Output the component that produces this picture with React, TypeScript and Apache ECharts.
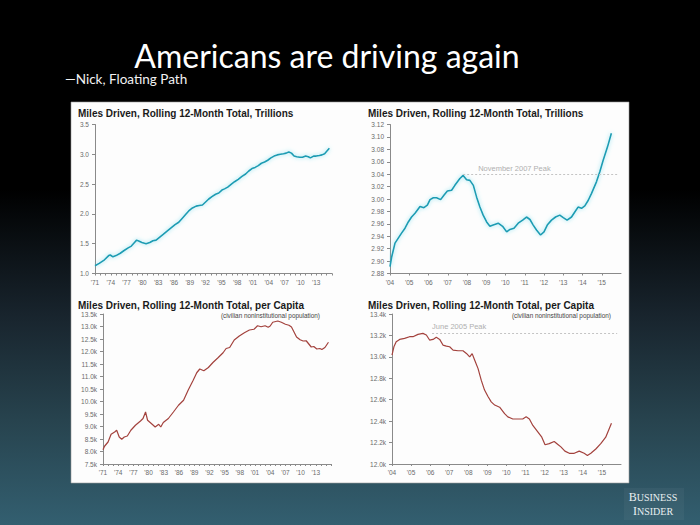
import React, { useEffect, useRef } from 'react';
import * as echarts from 'echarts';

// ---------- DATA ----------
const chartTitles = [
  'Miles Driven, Rolling 12-Month Total, Trillions',
  'Miles Driven, Rolling 12-Month Total, Trillions',
  'Miles Driven, Rolling 12-Month Total, per Capita',
  'Miles Driven, Rolling 12-Month Total, per Capita',
];
const popNote = '(civilian noninstitutional population)';

// Top-left: 1971-2015, trillions
const milesTotalLong: [number, number][] = [
  [1971.0, 1.13], [1971.8, 1.17], [1972.8, 1.23], [1973.6, 1.30], [1973.9, 1.31],
  [1974.4, 1.28], [1975.0, 1.30], [1975.8, 1.34], [1976.6, 1.39], [1977.3, 1.43],
  [1977.9, 1.46], [1978.5, 1.52], [1978.9, 1.56], [1979.4, 1.54], [1979.9, 1.52],
  [1980.7, 1.50], [1981.4, 1.52], [1982.0, 1.55], [1982.6, 1.56], [1983.3, 1.61],
  [1984.0, 1.66], [1984.8, 1.72], [1985.5, 1.77], [1986.2, 1.82], [1986.9, 1.86],
  [1987.5, 1.92], [1988.2, 1.99], [1988.8, 2.05], [1989.5, 2.10], [1990.2, 2.13],
  [1990.8, 2.14], [1991.4, 2.15], [1992.0, 2.20], [1992.6, 2.25], [1993.2, 2.29],
  [1993.9, 2.33], [1994.5, 2.35], [1995.1, 2.40], [1995.6, 2.42], [1996.2, 2.45],
  [1996.9, 2.50], [1997.5, 2.54], [1998.2, 2.58], [1998.9, 2.63], [1999.6, 2.67],
  [2000.2, 2.72], [2000.8, 2.76], [2001.4, 2.78], [2002.0, 2.81], [2002.6, 2.85],
  [2003.2, 2.87], [2003.8, 2.90], [2004.4, 2.94], [2005.0, 2.97], [2005.6, 2.99],
  [2006.2, 3.00], [2006.8, 3.01], [2007.3, 3.02], [2007.8, 3.04], [2008.3, 3.02],
  [2008.8, 2.97], [2009.3, 2.96], [2009.9, 2.95], [2010.4, 2.95], [2011.0, 2.97],
  [2011.5, 2.96], [2011.9, 2.94], [2012.5, 2.97], [2013.0, 2.97], [2013.6, 2.98],
  [2014.1, 2.99], [2014.6, 3.01], [2015.0, 3.05], [2015.5, 3.10],
];

// Top-right: 2004-2015, trillions
const milesTotalRecent: [number, number][] = [
  [2004.0, 2.891], [2004.09, 2.907], [2004.26, 2.929], [2004.43, 2.937], [2004.6, 2.945],
  [2004.78, 2.953], [2004.95, 2.963], [2005.12, 2.971], [2005.3, 2.977], [2005.56, 2.988],
  [2005.76, 2.986], [2005.94, 2.99], [2006.08, 2.999], [2006.25, 3.002], [2006.42, 3.002],
  [2006.63, 2.999], [2006.8, 3.006], [2006.98, 3.013], [2007.2, 3.014], [2007.37, 3.022],
  [2007.63, 3.033], [2007.8, 3.038], [2007.98, 3.031], [2008.15, 3.03], [2008.33, 3.022],
  [2008.5, 3.003], [2008.67, 2.987], [2008.84, 2.974], [2009.02, 2.963], [2009.19, 2.956],
  [2009.36, 2.958], [2009.62, 2.961], [2009.85, 2.956], [2010.06, 2.947], [2010.23, 2.951],
  [2010.44, 2.953], [2010.66, 2.961], [2010.89, 2.966], [2011.09, 2.971], [2011.27, 2.967],
  [2011.44, 2.958], [2011.61, 2.95], [2011.82, 2.942], [2012.0, 2.947], [2012.17, 2.958],
  [2012.39, 2.966], [2012.6, 2.971], [2012.82, 2.974], [2013.0, 2.97], [2013.2, 2.966],
  [2013.43, 2.971], [2013.6, 2.979], [2013.77, 2.987], [2013.95, 2.985], [2014.12, 2.989],
  [2014.3, 2.998], [2014.47, 3.009], [2014.73, 3.028], [2014.9, 3.044], [2015.07, 3.062],
  [2015.3, 3.084], [2015.5, 3.106],
];
const novPeak = { start: 2007.8, end: 2015.8, value: 3.04, label: 'November 2007 Peak' };

// Bottom-left: 1971-2015, thousand miles per capita
const perCapitaLong: [number, number][] = [
  [1971.0, 8.07], [1971.3, 8.21], [1972.0, 8.38], [1972.6, 8.69], [1973.3, 8.78],
  [1973.7, 8.85], [1974.2, 8.58], [1974.7, 8.49], [1975.2, 8.58], [1975.8, 8.62],
  [1976.5, 8.85], [1977.4, 9.05], [1978.4, 9.22], [1978.9, 9.32], [1979.4, 9.58],
  [1979.8, 9.25], [1980.7, 9.09], [1981.3, 8.98], [1982.0, 9.09], [1982.4, 8.98],
  [1982.9, 9.16], [1983.9, 9.32], [1984.9, 9.58], [1985.9, 9.85], [1986.9, 10.05],
  [1987.8, 10.45], [1988.8, 10.85], [1989.5, 11.15], [1990.1, 11.30], [1990.9, 11.23],
  [1991.8, 11.36], [1992.7, 11.56], [1993.7, 11.75], [1994.7, 11.95], [1995.3, 12.12],
  [1996.0, 12.16], [1996.9, 12.46], [1997.9, 12.62], [1998.9, 12.75], [1999.9, 12.86],
  [2000.8, 12.89], [2001.5, 13.03], [2002.2, 12.99], [2003.0, 13.03], [2003.6, 12.97],
  [2004.0, 13.02], [2004.5, 13.17], [2005.5, 13.22], [2006.2, 13.17], [2007.0, 13.09],
  [2007.7, 13.05], [2008.2, 12.98], [2008.7, 12.78], [2009.2, 12.58], [2009.9, 12.47],
  [2010.5, 12.42], [2011.1, 12.43], [2011.7, 12.28], [2012.1, 12.18], [2012.6, 12.20],
  [2013.2, 12.10], [2013.8, 12.12], [2014.2, 12.08], [2014.8, 12.16], [2015.5, 12.37],
];

// Bottom-right: 2004-2015, thousand miles per capita
const perCapitaRecent: [number, number][] = [
  [2004.0, 13.016], [2004.1, 13.094], [2004.22, 13.141], [2004.4, 13.163], [2004.66, 13.172],
  [2004.92, 13.188], [2005.1, 13.188], [2005.36, 13.21], [2005.62, 13.219], [2005.8, 13.204],
  [2005.97, 13.157], [2006.15, 13.163], [2006.32, 13.182], [2006.5, 13.163], [2006.67, 13.11],
  [2006.85, 13.1], [2007.02, 13.094], [2007.2, 13.063], [2007.46, 13.057], [2007.72, 13.057],
  [2007.9, 13.032], [2008.07, 13.0], [2008.2, 13.03], [2008.33, 12.97], [2008.51, 12.89],
  [2008.68, 12.78], [2008.85, 12.69], [2009.03, 12.63], [2009.2, 12.58], [2009.38, 12.55],
  [2009.64, 12.53], [2009.9, 12.47], [2010.07, 12.44], [2010.33, 12.42], [2010.59, 12.42],
  [2010.85, 12.42], [2011.03, 12.44], [2011.2, 12.42], [2011.38, 12.36], [2011.64, 12.30],
  [2011.85, 12.25], [2012.02, 12.18], [2012.24, 12.19], [2012.5, 12.21], [2012.71, 12.18],
  [2012.85, 12.16], [2013.06, 12.12], [2013.29, 12.10], [2013.55, 12.10], [2013.81, 12.12],
  [2014.07, 12.10], [2014.24, 12.08], [2014.42, 12.10], [2014.68, 12.14], [2014.94, 12.19],
  [2015.2, 12.25], [2015.5, 12.38],
];
const junePeak = { start: 2006.1, end: 2015.8, value: 13.225, label: 'June 2005 Peak' };

// ---------- STYLE HELPERS ----------
const tickFont = 'Liberation Sans, Arial, sans-serif';
const axisGray = '#8a8a8a';
const labelGray = '#6a6a6a';

function yearLabel(v: number) {
  if (Math.abs(v - Math.round(v)) > 1e-6) return '';
  const yy = String(Math.round(v) % 100).padStart(2, '0');
  return "'" + yy;
}

function xAxis(gridIndex: number, min: number, max: number, interval: number, minorSplit: number) {
  return {
    type: 'value',
    gridIndex,
    min,
    max,
    interval,
    axisLine: { show: true, lineStyle: { color: axisGray, width: 1 } },
    axisTick: { show: true, inside: false, length: 2, lineStyle: { color: axisGray } },
    minorTick: { show: minorSplit > 1, splitNumber: minorSplit, length: 2, lineStyle: { color: axisGray } },
    splitLine: { show: false },
    minorSplitLine: { show: false },
    axisLabel: {
      show: true,
      showMaxLabel: false,
      margin: 5,
      fontSize: 6.5,
      fontFamily: tickFont,
      color: labelGray,
      formatter: yearLabel,
    },
  };
}

function yAxis(gridIndex: number, min: number, max: number, interval: number, fmt: (v: number) => string) {
  return {
    type: 'value',
    gridIndex,
    min,
    max,
    interval,
    axisLine: { show: true, lineStyle: { color: axisGray, width: 1 } },
    axisTick: { show: true, inside: false, length: 3, lineStyle: { color: axisGray } },
    splitLine: { show: false },
    axisLabel: {
      show: true,
      margin: 6,
      fontSize: 6.5,
      fontFamily: tickFont,
      color: labelGray,
      formatter: fmt,
    },
  };
}

const tealLine = {
  color: '#1c9cb3',
  width: 1.6,
  shadowColor: 'rgba(95,215,235,0.75)',
  shadowBlur: 4,
};
const redLine = { color: '#a3423d', width: 1.2 };

export default function App() {
  const ref = useRef<HTMLDivElement>(null);

  useEffect(() => {
    if (!ref.current) return;
    const chart = echarts.init(ref.current, undefined, { renderer: 'svg' });

    const titleStyle = {
      fontSize: 10,
      fontWeight: 'bold',
      fontFamily: 'Liberation Sans, Arial, sans-serif',
      color: '#1a1a1a',
    };
    const peakLabel = {
      show: true,
      position: 'insideStartTop',
      color: '#b0b0b0',
      fontSize: 7.5,
      fontFamily: tickFont,
    };

    const option: any = {
      animation: false,
      backgroundColor: new echarts.graphic.LinearGradient(0, 0, 0, 1, [
        { offset: 0, color: '#000000' },
        { offset: 0.36, color: '#000000' },
        { offset: 0.6, color: '#18242d' },
        { offset: 0.8, color: '#27434e' },
        { offset: 1, color: '#335f70' },
      ]),
      title: [
        { text: chartTitles[0], left: 78, top: 108, padding: 0, textStyle: titleStyle },
        { text: chartTitles[1], left: 368, top: 108, padding: 0, textStyle: titleStyle },
        { text: chartTitles[2], left: 78, top: 300, padding: 0, textStyle: titleStyle },
        { text: chartTitles[3], left: 368, top: 300, padding: 0, textStyle: titleStyle },
      ],
      grid: [
        { left: 95, top: 124.5, width: 237, height: 149 },
        { left: 390, top: 124.5, width: 231, height: 149 },
        { left: 103, top: 314, width: 228, height: 150 },
        { left: 392, top: 314, width: 229, height: 150 },
      ],
      xAxis: [
        xAxis(0, 1971, 2016, 3, 3),
        xAxis(1, 2004, 2016, 1, 1),
        xAxis(2, 1971, 2016, 3, 3),
        xAxis(3, 2004, 2016, 1, 1),
      ],
      yAxis: [
        yAxis(0, 1.0, 3.5, 0.5, (v) => v.toFixed(1)),
        yAxis(1, 2.88, 3.12, 0.02, (v) => v.toFixed(2)),
        yAxis(2, 7.5, 13.5, 0.5, (v) => v.toFixed(1) + 'k'),
        yAxis(3, 12.0, 13.4, 0.2, (v) => v.toFixed(1) + 'k'),
      ],
      series: [
        {
          type: 'line', xAxisIndex: 0, yAxisIndex: 0, data: milesTotalLong,
          showSymbol: false, symbol: 'none', lineStyle: tealLine, z: 3,
        },
        {
          type: 'line', xAxisIndex: 1, yAxisIndex: 1, data: milesTotalRecent,
          showSymbol: false, symbol: 'none', lineStyle: tealLine, z: 3,
          markLine: {
            silent: true,
            symbol: 'none',
            lineStyle: { type: [2, 2], color: '#c4c4c4', width: 1 },
            label: { ...peakLabel, distance: [15, 2], formatter: novPeak.label },
            data: [[{ coord: [novPeak.start, novPeak.value] }, { coord: [novPeak.end, novPeak.value] }]],
          },
        },
        {
          type: 'line', xAxisIndex: 2, yAxisIndex: 2, data: perCapitaLong,
          showSymbol: false, symbol: 'none', lineStyle: redLine, z: 3,
        },
        {
          type: 'line', xAxisIndex: 3, yAxisIndex: 3, data: perCapitaRecent,
          showSymbol: false, symbol: 'none', lineStyle: redLine, z: 3,
          markLine: {
            silent: true,
            symbol: 'none',
            lineStyle: { type: [2, 2], color: '#c4c4c4', width: 1 },
            label: { ...peakLabel, distance: [0, 2], formatter: junePeak.label },
            data: [[{ coord: [junePeak.start, junePeak.value] }, { coord: [junePeak.end, junePeak.value] }]],
          },
        },
      ],
      graphic: [
        {
          type: 'rect',
          z: -1,
          shape: { x: 71, y: 102, width: 558, height: 381 },
          style: { fill: '#fdfdfd', stroke: '#9a9a9a', lineWidth: 0.6 },
        },
        {
          type: 'text',
          x: 327,
          y: 55,
          style: {
            text: 'Americans are driving again',
            fill: '#ffffff',
            font: '32px Lato, sans-serif',
            textAlign: 'center',
            textVerticalAlign: 'middle',
          },
        },
        {
          type: 'text',
          x: 65,
          y: 79,
          style: {
            text: '\u2014Nick, Floating Path',
            fill: '#f2f2f2',
            font: '13.5px Lato, sans-serif',
            textAlign: 'left',
            textVerticalAlign: 'middle',
          },
        },
        {
          type: 'text',
          x: 320,
          y: 315,
          style: {
            text: popNote,
            fill: '#444444',
            font: '6.4px Liberation Sans, Arial, sans-serif',
            textAlign: 'right',
            textVerticalAlign: 'middle',
          },
        },
        {
          type: 'text',
          x: 611,
          y: 315,
          style: {
            text: popNote,
            fill: '#444444',
            font: '6.4px Liberation Sans, Arial, sans-serif',
            textAlign: 'right',
            textVerticalAlign: 'middle',
          },
        },
        {
          type: 'rect',
          shape: { x: 624, y: 488, width: 60, height: 32 },
          style: { fill: 'rgba(255,255,255,0.04)' },
        },
        {
          type: 'text',
          x: 653,
          y: 497,
          style: {
            text: '{b|B}{s|USINESS}',
            textAlign: 'center',
            textVerticalAlign: 'middle',
            rich: {
              b: { fontSize: 12, fontFamily: 'Liberation Serif, serif', fill: '#e9eff1', color: '#e9eff1' },
              s: { fontSize: 10, fontFamily: 'Liberation Serif, serif', fill: '#e9eff1', color: '#e9eff1' },
            },
          },
        },
        {
          type: 'text',
          x: 653,
          y: 511,
          style: {
            text: '{b|I}{s|NSIDER}',
            textAlign: 'center',
            textVerticalAlign: 'middle',
            rich: {
              b: { fontSize: 12, fontFamily: 'Liberation Serif, serif', fill: '#e9eff1', color: '#e9eff1' },
              s: { fontSize: 10, fontFamily: 'Liberation Serif, serif', fill: '#e9eff1', color: '#e9eff1' },
            },
          },
        },
      ],
    };

    chart.setOption(option);
    return () => chart.dispose();
  }, []);

  return (
    <div
      ref={ref}
      style={{ position: 'absolute', left: 0, top: 0, width: 700, height: 525 }}
    />
  );
}
